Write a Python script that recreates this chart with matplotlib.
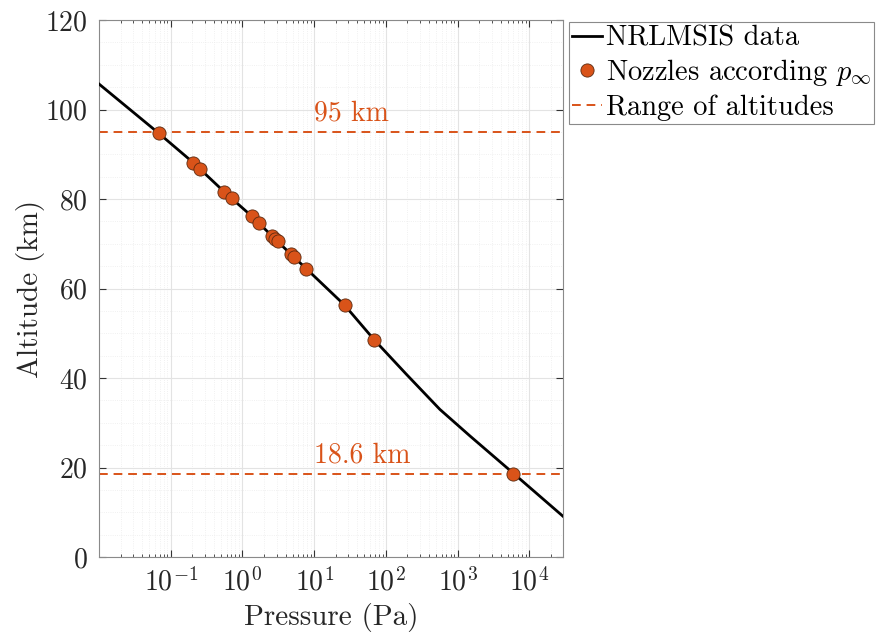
import matplotlib
matplotlib.use("Agg")
import matplotlib.pyplot as plt
from matplotlib.ticker import LogLocator, MultipleLocator, NullFormatter, FixedLocator

plt.rcParams['font.family'] = 'serif'
plt.rcParams['font.serif'] = ['cmr10', 'DejaVu Serif']
plt.rcParams['mathtext.fontset'] = 'cm'
plt.rcParams['axes.formatter.use_mathtext'] = True
plt.rcParams['axes.unicode_minus'] = False

# NRLMSIS profile
curve_pressure = [0.01, 0.068, 0.207, 0.557, 1.34, 2.88, 5.0, 7.8, 26.5, 68.2,
                  194, 565, 1500, 6000, 29500]
curve_altitude = [105.7, 94.7, 88.1, 81.6, 76.2, 71.0, 67.3, 64.4, 56.3, 48.6,
                  40.8, 33.0, 27.0, 18.7, 9.1]

# Nozzle points
nozzle_pressure = [0.068, 0.207, 0.257, 0.557, 0.713, 1.34, 1.68, 2.58, 2.88,
                   3.09, 4.77, 5.19, 7.8, 26.5, 68.2, 6000]
nozzle_altitude = [94.7, 88.1, 86.6, 81.6, 80.3, 76.2, 74.7, 71.7, 71.1,
                   70.6, 67.6, 67.1, 64.4, 56.3, 48.6, 18.6]

range_altitudes = [95, 18.6]
range_labels = ['95 km', '18.6 km']
x_ticks = [1e-1, 1e0, 1e1, 1e2, 1e3, 1e4]

orange = '#D95319'

fig = plt.figure(figsize=(8.76, 6.33), dpi=100)
ax = fig.add_axes([99/876, 1-557/633, (563-99)/876, (557-20)/633])

ax.semilogx(curve_pressure, curve_altitude, color='black', lw=2.0,
            label='NRLMSIS data', zorder=3, solid_joinstyle='round')
ax.plot(nozzle_pressure, nozzle_altitude, 'o', color=orange, ms=9.5,
        mec='#5a2a10', mew=0.6, label=r'Nozzles according $p_\infty$', zorder=4)
for i, (a, lab) in enumerate(zip(range_altitudes, range_labels)):
    ax.axhline(a, color=orange, ls='--', lw=1.4, dashes=(4.5, 3),
               label='Range of altitudes' if i == 0 else None, zorder=2)
    ax.text(10, a + 1.2, lab, color=orange, fontsize=20, ha='left', va='bottom')

ax.set_xlim(0.01, 29500)
ax.set_ylim(0, 120)
ax.yaxis.set_major_locator(MultipleLocator(20))
ax.yaxis.set_minor_locator(MultipleLocator(5))
ax.xaxis.set_major_locator(FixedLocator(x_ticks))
ax.xaxis.set_minor_locator(LogLocator(base=10, subs=range(2, 10), numticks=200))
ax.xaxis.set_minor_formatter(NullFormatter())

ax.grid(True, which='major', color='#e3e3e3', lw=0.8)
ax.grid(True, which='minor', color='#ececec', lw=0.6, ls=':')
ax.set_axisbelow(True)

ax.tick_params(which='both', direction='in', top=True, right=True,
               colors='#333333', labelcolor='#262626')
ax.tick_params(which='major', length=5, labelsize=20, pad=8)
ax.tick_params(which='minor', length=2.5)
ax.tick_params(axis='y', which='minor', length=0)
for s in ax.spines.values():
    s.set_color('#8a8a8a')
    s.set_linewidth(0.8)

ax.set_xlabel('Pressure (Pa)', fontsize=21, color='#262626', labelpad=4)
ax.set_ylabel('Altitude (km)', fontsize=21, color='#262626', labelpad=0)

leg = fig.legend(loc='upper left', bbox_to_anchor=(569/876, 1-22/633),
                 fontsize=20.5, numpoints=1, handlelength=1.05, handletextpad=0.12,
                 borderpad=0.12, labelspacing=0.2, borderaxespad=0,
                 fancybox=False, framealpha=1, edgecolor='#8a8a8a')
leg.get_frame().set_linewidth(0.8)
for h in leg.legend_handles:
    try:
        h.set_linewidth(2.0) if h.get_linestyle() == '-' else None
    except Exception:
        pass

fig.savefig('out.png', dpi=100)
